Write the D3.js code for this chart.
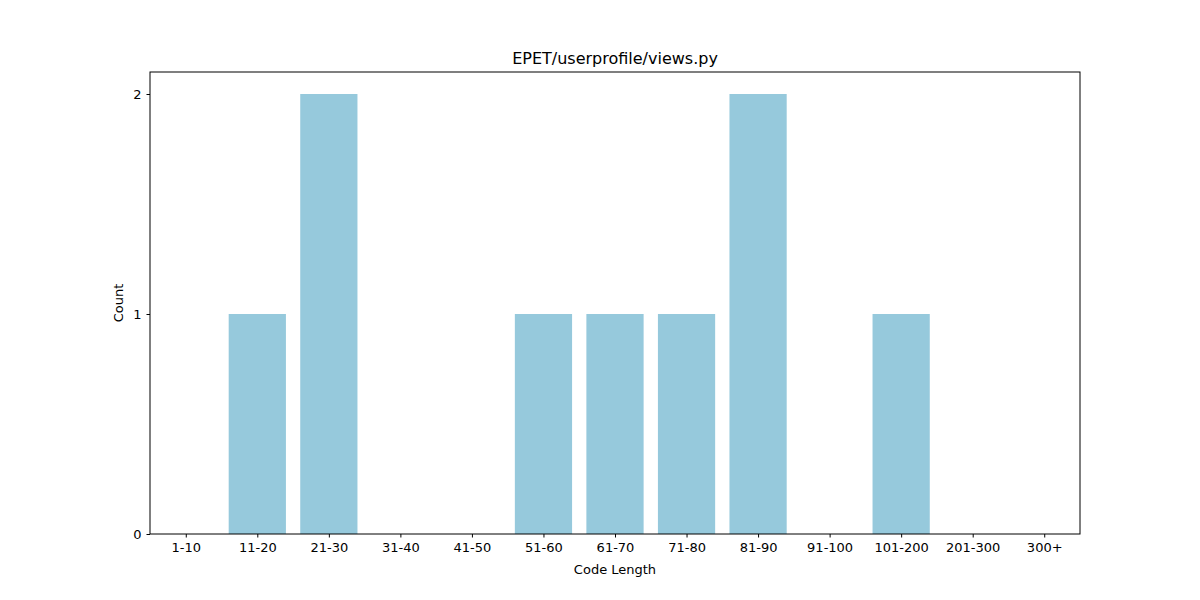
<!DOCTYPE html>
<html><head><meta charset="utf-8">
<script src="https://cdn.jsdelivr.net/npm/d3@7"></script>
<style>body{margin:0;background:#fff}text{font-family:"DejaVu Sans",sans-serif}</style>
</head><body><div id="chart"></div>
<script>
// Data
var categories = ["1-10","11-20","21-30","31-40","41-50","51-60","61-70","71-80","81-90","91-100","101-200","201-300","300+"];
var counts = [0,1,2,0,0,1,1,1,2,0,1,0,0];
var yTicks = [0,1,2];

var W = 1200, H = 600;
var margin = {top: 72, right: 120, bottom: 66, left: 150};

var svg = d3.select("#chart").append("svg")
    .attr("width", W).attr("height", H);

var x = d3.scaleLinear().domain([-0.5, categories.length - 0.5]).range([margin.left, W - margin.right]);
var y = d3.scaleLinear().domain([0, 2.1]).range([H - margin.bottom, margin.top]);
var bw = (x(1) - x(0)) * 0.8;

svg.append("g").selectAll("rect")
  .data(counts)
  .enter().append("rect")
    .attr("x", (d, i) => x(i) - bw / 2)
    .attr("y", d => y(d))
    .attr("width", bw)
    .attr("height", d => y(0) - y(d))
    .attr("fill", "#96c9dc");

var xAxis = d3.axisBottom(x).tickValues(d3.range(categories.length))
    .tickFormat(i => categories[i]).tickSizeOuter(0).tickSize(3.5).tickPadding(5);
svg.append("g").attr("transform", "translate(0," + y(0) + ")").call(xAxis)
  .call(g => g.select(".domain").remove())
  .selectAll("text").style("font-size", "13px");

var yAxis = d3.axisLeft(y).tickValues(yTicks).tickFormat(d3.format("d"))
    .tickSizeOuter(0).tickSize(3.5).tickPadding(5);
svg.append("g").attr("transform", "translate(" + margin.left + ",0)").call(yAxis)
  .call(g => g.select(".domain").remove())
  .selectAll("text").style("font-size", "13px");

// frame
svg.append("rect")
    .attr("x", margin.left).attr("y", margin.top)
    .attr("width", W - margin.left - margin.right)
    .attr("height", H - margin.top - margin.bottom)
    .attr("fill", "none").attr("stroke", "#000").attr("stroke-width", 1);

svg.append("text").attr("x", (margin.left + W - margin.right) / 2).attr("y", 64)
    .attr("text-anchor", "middle").style("font-size", "16px").text("EPET/userprofile/views.py");
svg.append("text").attr("x", (margin.left + W - margin.right) / 2).attr("y", 574)
    .attr("text-anchor", "middle").style("font-size", "13px").text("Code Length");
svg.append("text").attr("transform", "translate(123," + (margin.top + H - margin.bottom) / 2 + ") rotate(-90)")
    .attr("text-anchor", "middle").style("font-size", "13px").text("Count");
</script></body></html>
